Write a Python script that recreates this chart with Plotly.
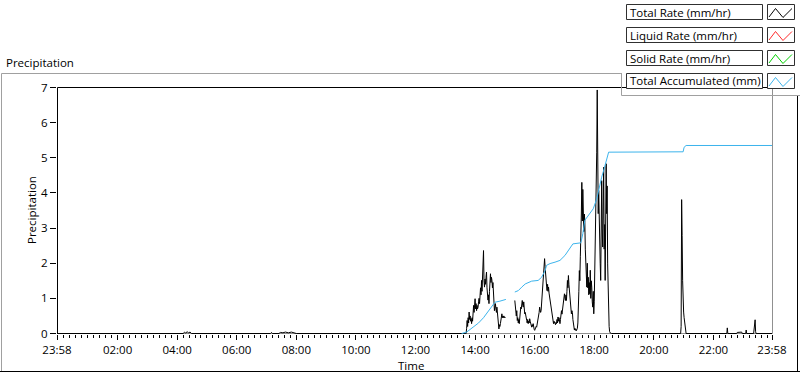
import plotly.graph_objects as go

# ---------------- data ----------------
DAY = "2024-01-01"
START = "2023-12-31 23:58"
END = "2024-01-01 23:58"

rate_time = [
    START, "04:12", "04:15", "04:17", "04:20", "04:23", "04:26", "04:29",
    "07:08", "07:10", "07:12", "07:25", "07:28", "07:33", "07:38", "07:44", "07:50", "07:56", "08:00",
    "13:41", "13:42", "13:43", "13:44", "13:45", "13:46", "13:47", "13:48", "13:49", "13:50",
    "13:51", "13:52", "13:53", "13:54", "13:55", "13:56", "13:57", "13:58", "13:59", "14:00",
    "14:01", "14:02", "14:03", "14:04", "14:05", "14:06", "14:07", "14:08", "14:09", "14:10",
    "14:11", "14:12", "14:13", "14:14", "14:15", "14:16", "14:17", "14:18", "14:19", "14:20",
    "14:21", "14:22", "14:23", "14:24", "14:25", "14:26", "14:27", "14:28", "14:29", "14:30",
    "14:31", "14:32", "14:33", "14:34", "14:35", "14:36", "14:37", "14:38", "14:39", "14:40",
    "14:41", "14:42", "14:43", "14:44", "14:45", "14:46", "14:47", "14:48", "14:49", "14:50",
    "14:51", "14:52", "14:53", "14:54", "14:55", "14:56", "14:57", "14:58", "14:59", "15:00",
    "15:01", "15:10",
    "15:20", "15:21", "15:22", "15:23", "15:24", "15:25", "15:26", "15:27", "15:28", "15:29",
    "15:30", "15:31", "15:32", "15:33", "15:34", "15:35", "15:36", "15:37", "15:38", "15:39",
    "15:40", "15:41", "15:42", "15:43", "15:44", "15:45", "15:46", "15:47", "15:48", "15:49",
    "15:50", "15:51", "15:52", "15:53", "15:54", "15:55", "15:56", "15:57", "15:58", "15:59",
    "16:00", "16:01", "16:02", "16:03", "16:04", "16:05", "16:06", "16:07", "16:08", "16:09",
    "16:10", "16:11", "16:12", "16:13", "16:14", "16:15", "16:16", "16:17", "16:18", "16:19",
    "16:20", "16:21", "16:22", "16:23", "16:24", "16:25", "16:26", "16:27", "16:28", "16:29",
    "16:30", "16:31", "16:32", "16:33", "16:34", "16:35", "16:36", "16:37", "16:38", "16:39",
    "16:40", "16:41", "16:42", "16:43", "16:44", "16:45", "16:46", "16:47", "16:48", "16:49",
    "16:50", "16:51", "16:52", "16:53", "16:54", "16:55", "16:56", "16:57", "16:58", "16:59",
    "17:00", "17:01", "17:02", "17:03", "17:04", "17:05", "17:06", "17:07", "17:08", "17:09",
    "17:10", "17:11", "17:12", "17:13", "17:14", "17:15", "17:16", "17:17", "17:18", "17:19",
    "17:20", "17:21", "17:22", "17:23", "17:24", "17:25", "17:26", "17:27", "17:28", "17:29",
    "17:30", "17:31", "17:32", "17:33", "17:34", "17:35", "17:36", "17:37", "17:38", "17:39",
    "17:40", "17:41", "17:42", "17:43", "17:44", "17:45", "17:46", "17:47", "17:48", "17:49",
    "17:50", "17:51", "17:52", "17:53", "17:54", "17:55", "17:56", "17:57", "17:58", "17:59",
    "18:00", "18:01", "18:02", "18:03", "18:04", "18:05", "18:06", "18:07", "18:08", "18:09",
    "18:10", "18:11", "18:12", "18:13", "18:14", "18:15", "18:16", "18:17", "18:18", "18:19",
    "18:20", "18:21", "18:22", "18:23", "18:24", "18:25", "18:26", "18:27", "18:28", "18:29",
    "18:30", "18:31", "18:32", "18:35",
    "20:54", "20:55", "20:56", "20:57", "20:58", "20:59", "21:00", "21:01", "21:02", "21:03", "21:05",
    "22:27", "22:28", "22:29", "22:47", "22:48", "22:57", "22:58",
    "23:05", "23:06", "23:07", "23:21", "23:22", "23:24", "23:25", "23:26", END,
]
rate_value = [
    0, 0, 0.04, 0.01, 0.05, 0.02, 0.04, 0,
    0, 0.03, 0, 0, 0.03, 0.02, 0.04, 0.02, 0.04, 0.02, 0,
    0, 0.0, 0.15, 0.37, 0.2, 0.45, 0.3, 0.61, 0.4, 0.5,
    0.35, 0.42, 0.28, 0.45, 0.35, 0.56, 0.8, 0.6, 0.9, 0.99,
    0.7, 0.85, 0.65, 0.8, 0.7, 0.75, 0.9, 1.0, 0.85, 1.13,
    1.3, 1.1, 1.51, 1.2, 1.6, 1.9, 2.36, 1.5, 1.32, 1.55,
    1.4, 1.6, 1.75, 1.3, 1.13, 0.95, 1.1, 0.85, 1.2, 1.55,
    1.7, 1.45, 1.6, 1.51, 1.3, 1.45, 1.13, 0.9, 0.65, 0.75,
    0.85, 0.7, 0.6, 0.75, 0.56, 0.35, 0.2, 0.13, 0.25, 0.2,
    0.28, 0.4, 0.5, 0.56, 0.45, 0.5, 0.45, 0.5, 0.45, 0.47,
    0.45, None,
    0.94, 0.8, 0.65, 0.5, 0.65, 0.37, 0.45, 0.3, 0.4, 0.28,
    0.5, 0.6, 0.75, 0.7, 0.85, 0.94, 0.8, 0.75, 0.9, 0.7,
    0.56, 0.6, 0.45, 0.5, 0.37, 0.3, 0.4, 0.28, 0.35, 0.3,
    0.42, 0.35, 0.25, 0.2, 0.18, 0.25, 0.2, 0.28, 0.15, 0.12,
    0.09, 0.15, 0.12, 0.2, 0.18, 0.25, 0.3, 0.37, 0.45, 0.6,
    0.75, 0.7, 0.6, 0.65, 0.85, 1.0, 1.15, 1.32, 1.6, 1.9,
    2.13, 1.9, 1.6, 1.51, 1.35, 1.22, 1.4, 1.2, 1.32, 1.15,
    1.05, 0.94, 0.85, 0.8, 0.75, 0.6, 0.5, 0.35, 0.28, 0.35,
    0.3, 0.32, 0.25, 0.32, 0.28, 0.4, 0.3, 0.47, 0.35, 0.45,
    0.3, 0.28, 0.4, 0.5, 0.65, 0.55, 0.7, 0.85, 0.94, 1.0,
    1.13, 1.0, 0.94, 1.1, 0.94, 1.2, 1.51, 1.3, 1.65, 1.4,
    1.2, 1.13, 0.9, 0.7, 0.56, 0.65, 0.6, 0.4, 0.25, 0.13,
    0.1, 0.15, 0.09, 0.12, 0.08, 0.11, 0.15, 0.3, 0.56, 1.2,
    1.79, 1.5, 2.2, 2.65, 3.4, 4.3, 3.2, 4.1, 3.69, 2.9,
    3.4, 3.22, 2.4, 1.89, 1.5, 1.32, 2.0, 1.3, 1.6, 1.1,
    1.45, 1.13, 1.8, 1.0, 1.5, 1.32, 0.9, 0.75, 1.2, 0.56,
    0.9, 1.7, 2.9, 3.97, 4.3, 5.16, 6.93, 4.83, 3.41, 4.07,
    2.9, 3.22, 2.0, 1.51, 2.8, 4.35, 3.0, 2.46, 3.6, 4.73,
    2.4, 3.1, 1.51, 3.9, 4.83, 3.41, 4.2, 1.98, 1.2, 0.56,
    0.2, 0.05, 0.02, 0,
    0, 0.2, 3.81, 2.79, 1.5, 0.75, 0.61, 0.45, 0.28, 0.1, 0,
    0, 0.16, 0, 0, 0.03, 0.04, 0,
    0, 0.1, 0, 0, 0.18, 0.39, 0.05, 0, 0,
]

accum_time = [
    "13:33", "13:43", "13:56", "14:07", "14:17", "14:30", "14:36", "14:40", "14:50", "15:02",
    "15:10",
    "15:20", "15:27", "15:34", "15:41", "15:54", "16:07", "16:14", "16:21", "16:24", "16:31",
    "16:41", "16:51", "17:01", "17:08", "17:17", "17:33", "17:37", "17:41", "17:51", "17:58",
    "18:05", "18:10", "18:15", "18:20", "18:25", "18:29", "20:59", "21:01", "21:05", END,
]
accum_value = [
    0, 0.04, 0.18, 0.3, 0.45, 0.7, 0.8, 0.89, 0.92, 0.97,
    None,
    1.18, 1.22, 1.32, 1.41, 1.49, 1.51, 1.6, 1.79, 1.94, 1.99,
    2.03, 2.08, 2.22, 2.36, 2.55, 2.58, 2.84, 3.22, 3.41, 3.55,
    3.83, 4.16, 4.45, 4.69, 4.92, 5.16, 5.17, 5.30, 5.35, 5.35,
]

x_tick_text = ["23:58", "02:00", "04:00", "06:00", "08:00", "10:00", "12:00",
               "14:00", "16:00", "18:00", "20:00", "22:00", "23:58"]
y_tick_vals = [0, 1, 2, 3, 4, 5, 6, 7]

legend_names = ["Total Rate (mm/hr)", "Liquid Rate (mm/hr)",
                "Solid Rate (mm/hr)", "Total Accumulated (mm)"]
legend_colors = ["#000000", "#ff2a2a", "#00d000", "#3cb4ec"]

CHART_TITLE = "Precipitation"
Y_TITLE = "Precipitation"
X_TITLE = "Time"


# ---------------- helpers ----------------
def ts(t):
    return t if len(t) > 5 else f"{DAY} {t}"


W, H = 800, 373
ML, MR, MT, MB = 57, 28, 86, 39
PW, PH = W - ML - MR, H - MT - MB


def XP(px):
    return (px - ML) / PW


def YP(py):
    return (H - MB - py) / PH


FONT = "Open Sans"

fig = go.Figure()
fig.add_trace(go.Scatter(
    x=[ts(t) for t in rate_time], y=rate_value, mode="lines",
    line=dict(color=legend_colors[0], width=1), connectgaps=False,
    name=legend_names[0], hoverinfo="skip"))
fig.add_trace(go.Scatter(
    x=[ts(t) for t in accum_time], y=accum_value, mode="lines",
    line=dict(color=legend_colors[3], width=1), connectgaps=False,
    name=legend_names[3], hoverinfo="skip"))

tickvals = [START] + [f"{DAY} {t}" for t in x_tick_text[1:-1]] + [END]

fig.update_layout(
    width=W, height=H, autosize=False,
    margin=dict(l=ML, r=MR, t=MT, b=MB, pad=0),
    paper_bgcolor="white", plot_bgcolor="white",
    showlegend=False,
    font=dict(family=FONT, size=11.5, color="#000000"),
    xaxis=dict(
        type="date", range=[START, END],
        tickmode="array", tickvals=tickvals, ticktext=x_tick_text,
        ticks="outside", ticklen=5, tickwidth=1, tickcolor="#000000",
        tickfont=dict(family=FONT, size=11.5, color="#000000"),
        showgrid=False, zeroline=False, showline=False,
        minor=dict(ticks="outside", ticklen=3, tickwidth=1, tickcolor="#000000",
                   tick0=f"{DAY} 00:00", dtick=12 * 60 * 1000, showgrid=False),
    ),
    yaxis=dict(
        range=[-0.5 / 35.143, 7 + 1.5 / 35.143],
        tickmode="array", tickvals=y_tick_vals,
        ticks="outside", ticklen=6, tickwidth=1, tickcolor="#000000",
        tickfont=dict(family=FONT, size=11.5, color="#000000"),
        showgrid=False, zeroline=False, showline=False,
    ),
)

shapes = []


def hline(x0, x1, y, color, layer="above"):
    shapes.append(dict(type="line", xref="paper", yref="paper",
                       x0=XP(x0), x1=XP(x1), y0=YP(y), y1=YP(y),
                       line=dict(color=color, width=1), layer=layer))


def vline(x, y0, y1, color, layer="above"):
    shapes.append(dict(type="line", xref="paper", yref="paper",
                       x0=XP(x), x1=XP(x), y0=YP(y0), y1=YP(y1),
                       line=dict(color=color, width=1), layer=layer))


# outer frame
vline(1.5, 73.5, 371.5, "#a0a0a0")
hline(1.5, 622, 73.5, "#a0a0a0")
vline(797.5, 96, 372, "#000000")
hline(0, 800, 371.5, "#000000")
# legend panel edges
vline(621.5, 73.5, 95.5, "#a0a0a0")
hline(621.5, 800, 95.5, "#a0a0a0")
# plot frame
vline(57.5, 87.5, 333.5, "#000000", "below")
hline(57.5, 772.5, 87.5, "#000000", "below")
vline(772.5, 87.5, 333.5, "#909090", "below")
hline(57.5, 772.5, 333.5, "#909090", "below")

annotations = [
    dict(text=CHART_TITLE, xref="paper", yref="paper", x=XP(4), y=YP(63),
         xanchor="left", yanchor="middle", showarrow=False,
         font=dict(family=FONT, size=11.5, color="#000000")),
    dict(text=Y_TITLE, xref="paper", yref="paper", x=XP(31), y=YP(210),
         xanchor="center", yanchor="middle", showarrow=False, textangle=-90,
         font=dict(family=FONT, size=11.5, color="#000000")),
    dict(text=X_TITLE, xref="paper", yref="paper", x=XP(411), y=YP(365),
         xanchor="center", yanchor="middle", showarrow=False,
         font=dict(family=FONT, size=11.5, color="#000000")),
]

# legend (LabVIEW style)
for i, (name, col) in enumerate(zip(legend_names, legend_colors)):
    top = 4.5 + 23 * i
    bot = top + 15
    shapes.append(dict(type="rect", xref="paper", yref="paper",
                       x0=XP(626.5), x1=XP(762.5), y0=YP(top), y1=YP(bot),
                       line=dict(color="#303030", width=1), fillcolor="white"))
    shapes.append(dict(type="rect", xref="paper", yref="paper",
                       x0=XP(767.5), x1=XP(794.5), y0=YP(top), y1=YP(bot),
                       line=dict(color="#303030", width=1), fillcolor="white"))
    pts = [(769, bot - 2.5), (775.5, top + 4), (783, bot - 2), (792, top + 4)]
    path = "M " + " L ".join(f"{XP(a):.5f},{YP(b):.5f}" for a, b in pts)
    shapes.append(dict(type="path", xref="paper", yref="paper", path=path,
                       line=dict(color=col, width=1)))
    annotations.append(dict(text=name, xref="paper", yref="paper",
                            x=XP(628), y=YP((top + bot) / 2),
                            xanchor="left", yanchor="middle", showarrow=False,
                            font=dict(family=FONT, size=11.5, color="#000000")))

fig.update_layout(shapes=shapes, annotations=annotations)

fig.write_html(
    "out.html",
    config={"displayModeBar": False, "staticPlot": True},
    post_script="document.body.style.margin='0';document.body.style.overflow='hidden';",
)
